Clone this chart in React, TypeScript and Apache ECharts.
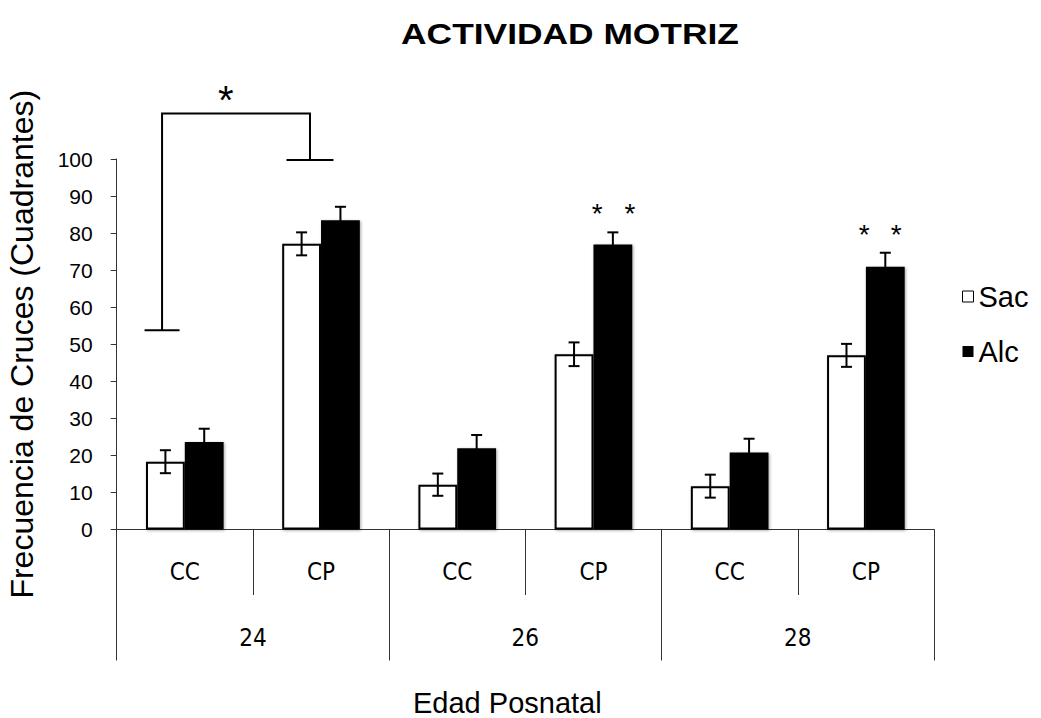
import React, { useEffect, useRef } from "react";
import * as echarts from "echarts";

// Inner categories (measurement type) and outer groups (postnatal age)
const categories = ["CC", "CP", "CC", "CP", "CC", "CP"];
const ageGroups = ["24", "26", "28"];

// Mean crossings per group and their standard errors
const sacValues = [18.3, 77.1, 12.1, 47.3, 11.7, 47.0];
const sacErrors = [3.1, 3.1, 3.0, 3.2, 3.1, 3.1];
const alcValues = [23.6, 83.5, 21.9, 76.9, 20.8, 70.9];
const alcErrors = [3.6, 3.6, 3.6, 3.3, 3.7, 3.8];

// Y axis scale
const yMin = 0;
const yMax = 100;
const yInterval = 10;

// Significance bracket between 24 CC and 24 CP (value levels)
const bracketCats = [0, 1];
const bracketLevels = [53.8, 112.3, 99.7]; // left foot, top, right foot

// Asterisks: category index and value level
const starCats = [0, 3, 3, 5, 5];
const starLevels = [118.6, 87.3, 87.3, 81.4, 81.4];

const FONT = "'Liberation Sans', Arial, sans-serif";
const NARROW = "'Liberation Sans Narrow', 'DejaVu Sans Condensed', sans-serif";

// Horizontal placement within a category, as a fraction of the category width
const barOffset = 0.1425;
const bracketOffsets = [-0.167, -0.081];
const bracketFeet = [17.5, 23.5];
const starOffsets = [0.3, 0.027, 0.268, -0.012, 0.223];
const starSizes = [40, 28, 28, 28, 28];

function errorSeries(name: string, values: number[], errors: number[], side: number) {
  return {
    type: "custom",
    name: name + " error",
    xAxisIndex: 0,
    yAxisIndex: 0,
    z: 5,
    silent: true,
    data: values.map((v, i) => [i, v, errors[i]]),
    encode: { x: 0, y: 1 },
    renderItem: (params: any, api: any) => {
      const i = api.value(0);
      const v = api.value(1);
      const e = api.value(2);
      const w = api.size([1, 0])[0];
      const cx = api.coord([i, v])[0] + side * barOffset * w;
      const yt = api.coord([i, v + e])[1];
      const yb = api.coord([i, v - e])[1];
      const cap = 5.5;
      const style = { stroke: "#000", lineWidth: 2 };
      return {
        type: "group",
        children: [
          { type: "line", shape: { x1: cx, y1: yt, x2: cx, y2: yb }, style },
          { type: "line", shape: { x1: cx - cap, y1: yt, x2: cx + cap, y2: yt }, style },
          { type: "line", shape: { x1: cx - cap, y1: yb, x2: cx + cap, y2: yb }, style },
        ],
      };
    },
  };
}

export default function App() {
  const ref = useRef<HTMLDivElement>(null);

  useEffect(() => {
    if (!ref.current) return;
    const chart = echarts.init(ref.current, undefined, { renderer: "svg" });

    const barShadow = {
      shadowColor: "rgba(0,0,0,0.35)",
      shadowBlur: 3,
      shadowOffsetX: 1,
      shadowOffsetY: 1,
    };

    chart.setOption({
      animation: false,
      backgroundColor: "#fff",
      graphic: [
        {
          type: "text",
          x: 570,
          y: 34,
          scaleX: 1.22,
          style: {
            text: "ACTIVIDAD MOTRIZ",
            font: "bold 29px " + FONT,
            fill: "#000",
            textAlign: "center",
            textVerticalAlign: "middle",
          },
        },
      ],
      legend: {
        orient: "vertical",
        left: 962,
        top: 281,
        padding: 0,
        icon: "rect",
        itemWidth: 11,
        itemHeight: 11,
        itemGap: 24,
        textStyle: { fontFamily: FONT, fontSize: 29, color: "#000", lineHeight: 31 },
        data: [
          { name: "Sac", itemStyle: { color: "#fff", borderColor: "#000", borderWidth: 1 } },
          { name: "Alc", itemStyle: { color: "#000" } },
        ],
      },
      grid: {
        left: 116.7,
        right: 107,
        top: 159,
        bottom: 188.5,
        containLabel: false,
        outerBoundsMode: "none",
      },
      xAxis: [
        {
          type: "category",
          data: categories,
          position: "bottom",
          axisLine: { show: true, lineStyle: { color: "#333", width: 1 } },
          axisTick: { show: true, length: 65.5, lineStyle: { color: "#333", width: 1 } },
          axisLabel: { margin: 30, fontFamily: NARROW, fontSize: 24, color: "#000" },
          name: "Edad Posnatal",
          nameLocation: "middle",
          nameGap: 159,
          nameTextStyle: {
            fontFamily: FONT,
            fontSize: 29,
            color: "#000",
            padding: [0, 36, 0, 0],
          },
        },
        {
          type: "category",
          data: ageGroups,
          position: "bottom",
          axisLine: { show: false },
          axisTick: { show: true, length: 131, lineStyle: { color: "#333", width: 1 } },
          axisLabel: { margin: 96, fontFamily: NARROW, fontSize: 24, color: "#000" },
        },
      ],
      yAxis: {
        type: "value",
        min: yMin,
        max: yMax,
        interval: yInterval,
        axisLine: { show: true, lineStyle: { color: "#333", width: 1 } },
        axisTick: { show: true, length: 6, lineStyle: { color: "#333" } },
        splitLine: { show: false },
        axisLabel: { margin: 24, fontFamily: FONT, fontSize: 21, color: "#000" },
        name: "Frecuencia de Cruces (Cuadrantes)",
        nameLocation: "middle",
        nameGap: 79,
        nameTextStyle: { fontFamily: FONT, fontSize: 32, color: "#000" },
      },
      series: [
        {
          type: "bar",
          name: "Sac",
          data: sacValues,
          barGap: "0%",
          barCategoryGap: "43%",
          itemStyle: { color: "#fff", borderColor: "#000", borderWidth: 2, ...barShadow },
          z: 2,
        },
        {
          type: "bar",
          name: "Alc",
          data: alcValues,
          barGap: "0%",
          barCategoryGap: "43%",
          itemStyle: { color: "#000", ...barShadow },
          z: 2,
        },
        errorSeries("Sac", sacValues, sacErrors, -1),
        errorSeries("Alc", alcValues, alcErrors, 1),
        {
          // significance bracket
          type: "custom",
          name: "bracket",
          silent: true,
          z: 6,
          data: [[bracketCats[0], bracketLevels[1]]],
          encode: { x: 0, y: 1 },
          renderItem: (params: any, api: any) => {
            const w = api.size([1, 0])[0];
            const xl = api.coord([bracketCats[0], 0])[0] + bracketOffsets[0] * w;
            const xr = api.coord([bracketCats[1], 0])[0] + bracketOffsets[1] * w;
            const yl = api.coord([bracketCats[0], bracketLevels[0]])[1];
            const yt = api.coord([bracketCats[0], bracketLevels[1]])[1];
            const yr = api.coord([bracketCats[1], bracketLevels[2]])[1];
            const style = { stroke: "#000", lineWidth: 2, fill: null };
            return {
              type: "group",
              children: [
                {
                  type: "polyline",
                  shape: { points: [[xl, yl], [xl, yt], [xr, yt], [xr, yr]] },
                  style,
                },
                {
                  type: "line",
                  shape: { x1: xl - bracketFeet[0], y1: yl, x2: xl + bracketFeet[0], y2: yl },
                  style,
                },
                {
                  type: "line",
                  shape: { x1: xr - bracketFeet[1], y1: yr, x2: xr + bracketFeet[1], y2: yr },
                  style,
                },
              ],
            };
          },
        },
        {
          // asterisks marking significant differences
          type: "custom",
          name: "stars",
          silent: true,
          z: 6,
          data: starCats.map((c, i) => [c, starLevels[i], i]),
          encode: { x: 0, y: 1 },
          renderItem: (params: any, api: any) => {
            const k = api.value(2);
            const w = api.size([1, 0])[0];
            const p = api.coord([api.value(0), api.value(1)]);
            const size = starSizes[k];
            return {
              type: "text",
              x: p[0] + starOffsets[k] * w,
              y: p[1] + size * 0.25,
              style: {
                text: "*",
                font: size + "px " + FONT,
                fill: "#000",
                textAlign: "center",
                textVerticalAlign: "middle",
              },
            };
          },
        },
      ],
    });

    return () => chart.dispose();
  }, []);

  return (
    <div
      ref={ref}
      style={{ position: "fixed", left: 0, top: 0, width: 1041, height: 718, background: "#fff" }}
    />
  );
}
